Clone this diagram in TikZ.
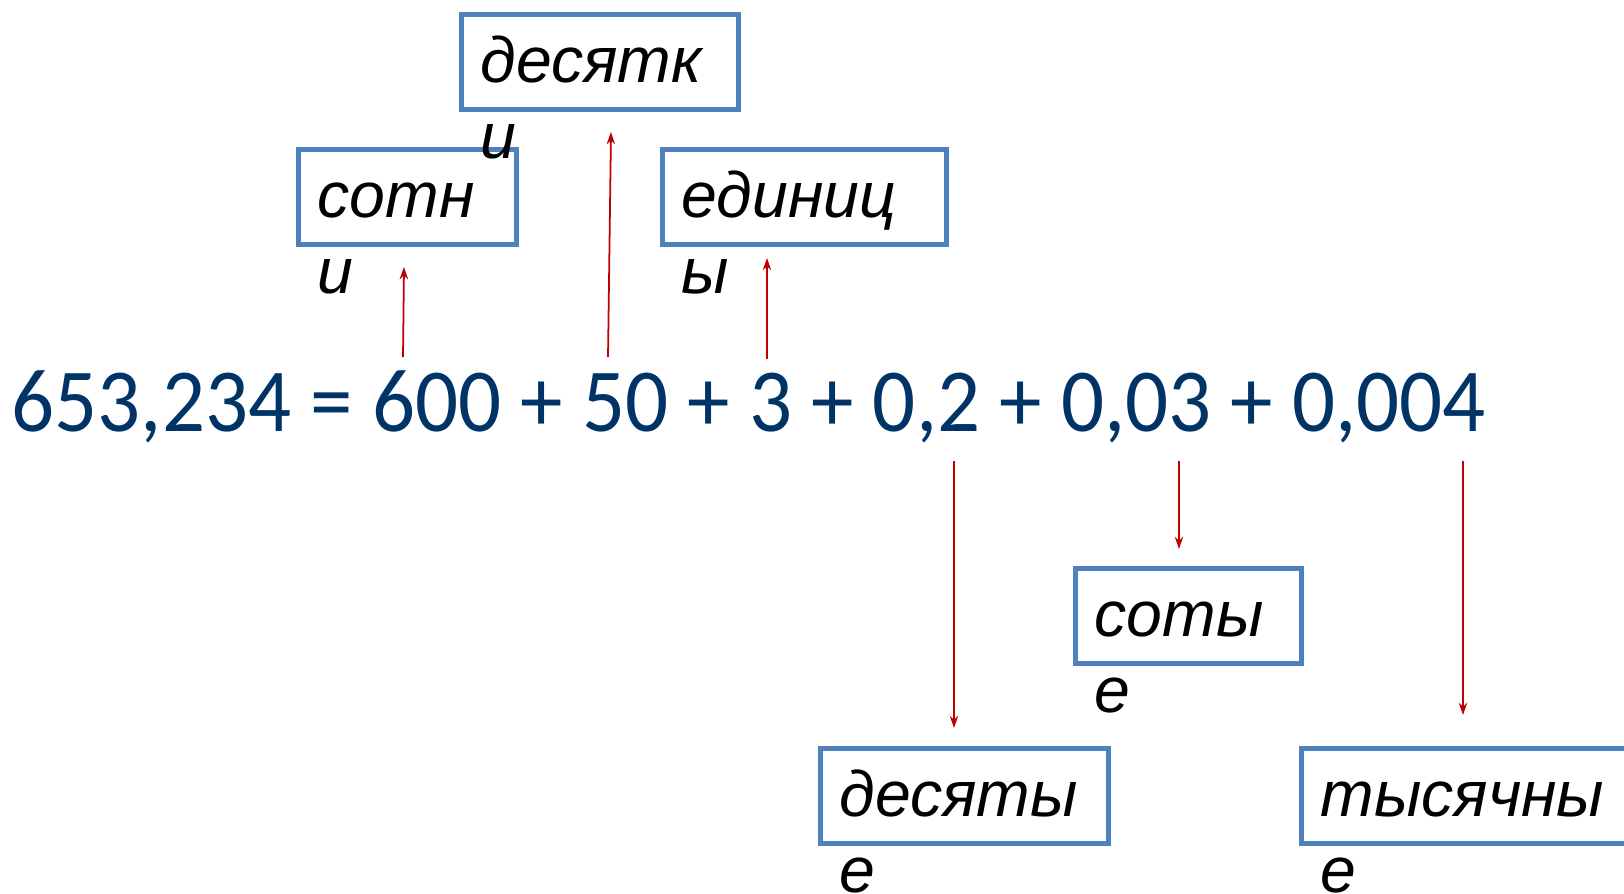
\documentclass[tikz,border=0pt]{standalone}
\usepackage{fontspec}
\usepackage{tikz}
\usetikzlibrary{arrows.meta}
\newfontfamily\wordfont[ItalicFont={Liberation Sans Italic}]{Liberation Sans}
\newfontfamily\sumfont[FakeStretch=0.944]{Carlito}
\definecolor{boxblue}{RGB}{79,129,189}
\definecolor{sumblue}{RGB}{0,51,102}
\definecolor{arrowred}{RGB}{192,0,0}
\tikzset{
  box/.style={draw=boxblue, line width=1.3pt, inner sep=0pt, anchor=north west, minimum height=0.95cm},
  word/.style={font=\fontsize{18.3pt}{21.6pt}\selectfont\wordfont\itshape, align=left, anchor=base west, inner sep=0pt},
  pointer/.style={-{Stealth[length=3.5pt,width=2.4pt]}, draw=arrowred, line width=0.5pt}
}

\begin{document}
\begin{tikzpicture}[x=0.01cm,y=-0.01cm]
  \useasboundingbox (0,0) rectangle (1624,893);
%the sum
  \node[font=\fontsize{25.6pt}{30pt}\selectfont\sumfont, text=sumblue, anchor=base west, inner sep=0pt]
    (sum) at (11,431) {653,234 = 600 + 50 + 3 + 0,2 + 0,03 + 0,004};
%whole part (base is the last line)
  \node[box, minimum width=2.18cm] (hundreds) at (296,147) {};
  \node[word] (hundredsw) at ([shift={(21,146)}]hundreds.north west) {сотн\\и};
  \node[box, minimum width=2.77cm] (tens) at (459,12) {};
  \node[word] (tensw) at ([shift={(21,146)}]tens.north west) {десятк\\и};
  \node[box, minimum width=2.84cm] (units) at (660,147) {};
  \node[word] (unitsw) at ([shift={(21,146)}]units.north west) {единиц\\ы};
%fractional part
  \node[box, minimum width=2.88cm] (tenths) at (818,746) {};
  \node[word] (tenthsw) at ([shift={(21,146)}]tenths.north west) {десяты\\е};
  \node[box, minimum width=2.26cm] (hundredths) at (1073,566) {};
  \node[word] (hundredthsw) at ([shift={(21,146)}]hundredths.north west) {соты\\е};
  \node[box, minimum width=3.40cm] (thousandths) at (1299,746) {};
  \node[word] (thousandthsw) at ([shift={(21,146)}]thousandths.north west) {тысячны\\е};
%arrows
  \coordinate (h0) at (403,357); \coordinate (h1) at (404,267);
  \coordinate (t0) at (608,357); \coordinate (t1) at (611,132);
  \coordinate (u0) at (767,359); \coordinate (u1) at (767,258);
  \coordinate (d0) at (954,461); \coordinate (d1) at (954,728);
  \coordinate (s0) at (1179,461); \coordinate (s1) at (1179,549);
  \coordinate (k0) at (1463,461); \coordinate (k1) at (1463,715);
  \draw[pointer] (h0) -- (h1);
  \draw[pointer] (t0) -- (t1);
  \draw[pointer] (u0) -- (u1);
  \draw[pointer] (d0) -- (d1);
  \draw[pointer] (s0) -- (s1);
  \draw[pointer] (k0) -- (k1);
\end{tikzpicture}
\end{document}
